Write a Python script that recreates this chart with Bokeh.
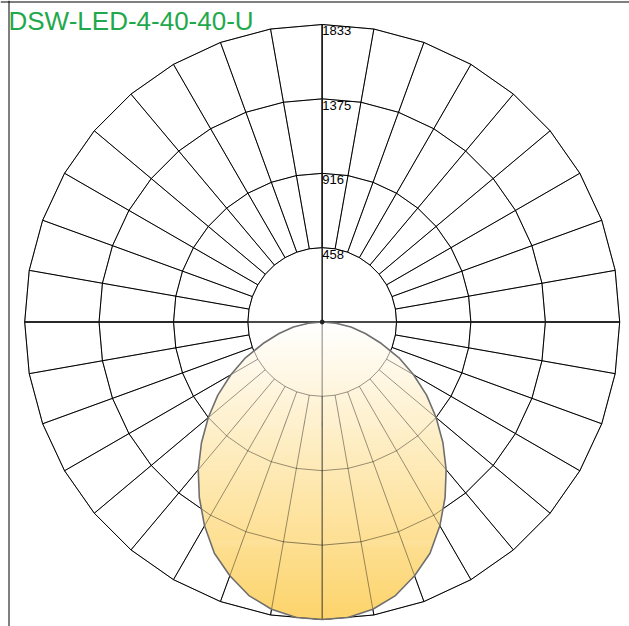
import numpy as np
from bokeh.plotting import figure
from bokeh.models import Label, Span
from bokeh.embed import file_html
from bokeh.resources import INLINE
from bokeh.core.properties import value

# ---------------- data ----------------
title_text = "DSW-LED-4-40-40-U"
gamma_deg = [0, 5, 10, 15, 20, 25, 30, 35, 40, 45, 50, 55, 60, 65, 70, 75, 80, 85, 90]
intensity = [1833, 1828, 1797, 1745, 1664, 1572, 1450, 1320, 1188, 1052, 916, 785, 650, 522, 388, 275, 180, 85, 0]
ring_values = [458, 916, 1375, 1833]
ring_labels = ["458", "916", "1375", "1833"]
max_value = 1833
grid_step_deg = 10

# ---------------- layout ----------------
W, H = 629, 626
R_PX = 297.5
CX, CY = 321.7, 321.5          # polar centre inside the figure (px from top-left)
u = max_value / R_PX            # data units per pixel
x0 = -CX * u
x1 = (W - CX) * u
y1 = CY * u
y0 = -(H - CY) * u

p = figure(width=W, height=H, x_range=(x0, x1), y_range=(y0, y1),
           output_backend="svg", toolbar_location=None,
           x_axis_type=None, y_axis_type=None, min_border=0,
           outline_line_color=None)
p.xgrid.visible = False
p.ygrid.visible = False
p.background_fill_color = "white"
p.border_fill_color = "white"

# ---------------- grid geometry ----------------
ang_ring = np.deg2rad(np.arange(0, 361, grid_step_deg))
ring_xs = [list(v * np.sin(ang_ring)) for v in ring_values]
ring_ys = [list(v * np.cos(ang_ring)) for v in ring_values]

ang_rad = np.deg2rad(np.arange(0, 360, grid_step_deg))
r_in, r_out = ring_values[0], ring_values[-1]
rad_xs = [[r_in * np.sin(a), r_out * np.sin(a)] for a in ang_rad]
rad_ys = [[r_in * np.cos(a), r_out * np.cos(a)] for a in ang_rad]

axis_xs = [[-r_out, r_out], [0, 0]]
axis_ys = [[0, 0], [-r_out, r_out]]


def draw_grid(alpha):
    p.multi_line(rad_xs, rad_ys, line_color="black", line_width=1, line_alpha=alpha)
    p.multi_line(ring_xs, ring_ys, line_color="black", line_width=1, line_alpha=alpha)
    p.multi_line(axis_xs, axis_ys, line_color="#222222", line_width=1.4, line_alpha=alpha)


draw_grid(1.0)

# ---------------- light distribution curve ----------------
g = np.deg2rad(np.array(gamma_deg, dtype=float))
I = np.array(intensity, dtype=float)
xr = I * np.sin(g)
yr = -I * np.cos(g)          # ascending in y as gamma goes 0 -> 90

# gradient fill as opaque horizontal strips clipped to the curve
n_strips = 300
edges = np.linspace(yr[0], 0.0, n_strips + 1)
overlap = 0.7 * u
top_rgb = np.array([255, 255, 255], dtype=float)
bot_rgb = np.array([253, 212, 108], dtype=float)
strip_xs, strip_ys, strip_col = [], [], []
for i in range(n_strips):
    yt = edges[i + 1]
    yb = max(edges[i] - overlap, yr[0])
    xt = float(np.interp(yt, yr, xr))
    xb = float(np.interp(yb, yr, xr))
    strip_xs.append([-xt, xt, xb, -xb])
    strip_ys.append([yt, yt, yb, yb])
    t = -(yt + yb) / 2 / max_value
    c = top_rgb * (1 - t) + bot_rgb * t
    strip_col.append("#%02x%02x%02x" % tuple(int(round(v)) for v in c))

p.patches(strip_xs, strip_ys, fill_color=strip_col, line_color=None)

# grid seen through the fill
draw_grid(0.4)

# curve outline
curve_x = list(xr) + list(-xr[::-1])
curve_y = list(yr) + list(yr[::-1])
p.line(curve_x, curve_y, line_color="#6f6f6f", line_width=1.6)

# centre dot
p.scatter(x=[0], y=[0], size=4, color="#222222")

# ring labels
p.text(x=[0] * len(ring_values), y=[v - 6.4 * u for v in ring_values], text=ring_labels,
       text_font=value("Liberation Sans"), text_font_size="13px", text_color="black",
       text_align="left", text_baseline="alphabetic")

# frame lines (left and top)
p.add_layout(Span(location=x0 + 8.5 * u, dimension="height", line_color="black", line_width=1))
p.add_layout(Span(location=y1 - 1.5 * u, dimension="width", line_color="black", line_width=1))

# title
p.add_layout(Label(x=x0 + 8 * u, y=y1 - 20.2 * u, text=title_text, text_font="Liberation Sans",
                   text_font_size="26px", text_color="#1fa94c",
                   text_align="left", text_baseline="alphabetic"))

open("out.html", "w").write(file_html(p, INLINE))
